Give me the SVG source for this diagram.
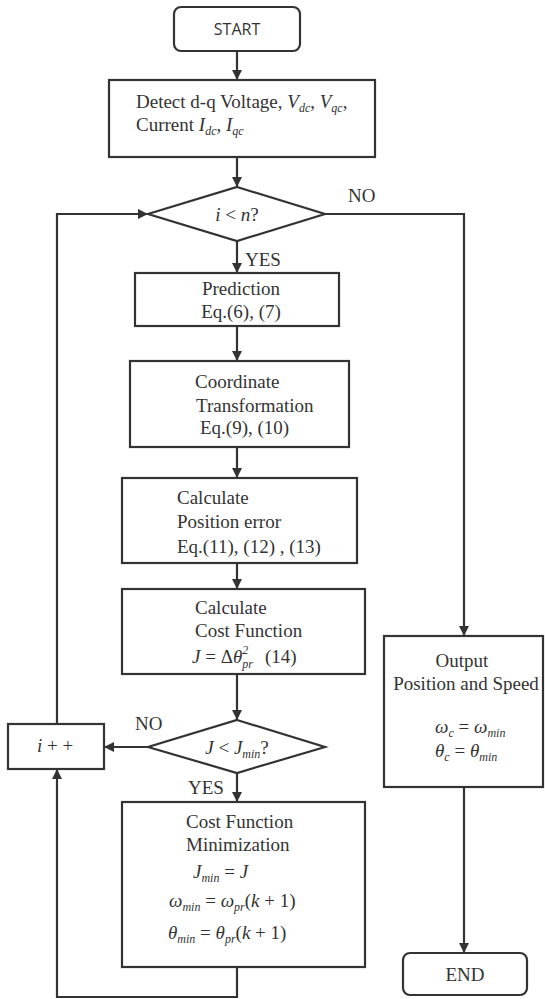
<svg xmlns="http://www.w3.org/2000/svg" width="545" height="999" viewBox="0 0 545 999">
<defs>
<style>
.box{fill:#fff;stroke:#333;stroke-width:2.2}
.ln{fill:none;stroke:#333;stroke-width:2.2}
.t{font-family:"Liberation Serif","Times New Roman",serif;font-size:19px;fill:#333}
.m{font-family:"Liberation Serif","Times New Roman",serif;font-size:19px;fill:#333;font-style:italic}
.s{font-family:"Open Sans","Liberation Sans",sans-serif;font-size:16px;fill:#333}
.sub{font-size:12px}
</style>
<marker id="ah" markerWidth="10" markerHeight="10" refX="10" refY="5" orient="auto" markerUnits="userSpaceOnUse">
<path d="M0,0 L10,5 L0,10 Z" fill="#333"/>
</marker>
</defs>
<rect width="545" height="999" fill="#fff"/>
<g id="connectors">
<path class="ln" d="M237,51 V80" marker-end="url(#ah)"/>
<path class="ln" d="M237,157 V187" marker-end="url(#ah)"/>
<path class="ln" d="M237,241 V273" marker-end="url(#ah)"/>
<path class="ln" d="M237,326 V361" marker-end="url(#ah)"/>
<path class="ln" d="M237,447 V478" marker-end="url(#ah)"/>
<path class="ln" d="M237,563 V589" marker-end="url(#ah)"/>
<path class="ln" d="M237,674 V720" marker-end="url(#ah)"/>
<path class="ln" d="M237,773 V802" marker-end="url(#ah)"/>
<path class="ln" d="M148,747 H104" marker-end="url(#ah)"/>
<path class="ln" d="M237,967 V997 H57 V769" marker-end="url(#ah)"/>
<path class="ln" d="M57,724 V214 H148" marker-end="url(#ah)"/>
<path class="ln" d="M325,214 H464 V636" marker-end="url(#ah)"/>
<path class="ln" d="M464,787 V953" marker-end="url(#ah)"/>
<text class="t" x="348" y="202" font-size="17">NO</text>
<text class="t" x="245" y="266" font-size="17">YES</text>
<text class="t" x="135" y="730" font-size="17">NO</text>
<text class="t" x="188" y="794" font-size="17">YES</text>
</g>
<g id="start">
<rect class="box" x="174" y="7" width="126" height="44" rx="7"/>
<text class="s" x="237" y="35" text-anchor="middle">START</text>
</g>
<g id="detect">
<rect class="box" x="109" y="80" width="266" height="77"/>
<text class="t" x="136" y="108" font-size="18">Detect d-q Voltage, <tspan font-style="italic">V<tspan class="sub" dy="4">dc</tspan></tspan><tspan dy="-4">, </tspan><tspan font-style="italic">V<tspan class="sub" dy="4">qc</tspan></tspan><tspan dy="-4">,</tspan></text>
<text class="t" x="136" y="131" font-size="18">Current <tspan font-style="italic">I<tspan class="sub" dy="4">dc</tspan></tspan><tspan dy="-4">, </tspan><tspan font-style="italic">I<tspan class="sub" dy="4">qc</tspan></tspan></text>
</g>
<g id="cond1">
<polygon class="box" points="237,187 325,214 237,241 148,214"/>
<text class="t" x="237" y="221" text-anchor="middle"><tspan font-style="italic">i</tspan> &lt; <tspan font-style="italic">n</tspan>?</text>
</g>
<g id="prediction">
<rect class="box" x="135" y="273" width="204" height="53"/>
<text class="t" x="241" y="295" text-anchor="middle">Prediction</text>
<text class="t" x="241" y="318" text-anchor="middle">Eq.(6), (7)</text>
</g>
<g id="coord">
<rect class="box" x="130" y="361" width="219" height="86"/>
<text class="t" x="195" y="388">Coordinate</text>
<text class="t" x="196" y="412">Transformation</text>
<text class="t" x="200" y="434">Eq.(9), (10)</text>
</g>
<g id="poserr">
<rect class="box" x="122" y="478" width="235" height="85"/>
<text class="t" x="177" y="504">Calculate</text>
<text class="t" x="177" y="528">Position error</text>
<text class="t" x="177" y="553">Eq.(11), (12) , (13)</text>
</g>
<g id="cost">
<rect class="box" x="122" y="589" width="243" height="85"/>
<text class="t" x="195" y="614">Calculate</text>
<text class="t" x="195" y="637">Cost Function</text>
<text class="t" x="192" y="663"><tspan font-style="italic">J</tspan> = Δ<tspan font-style="italic">θ</tspan><tspan class="sub" font-style="italic" dy="-9">2</tspan><tspan class="sub" font-style="italic" dx="-6" dy="14">pr</tspan><tspan dx="12" dy="-5">(14)</tspan></text>
</g>
<g id="cond2">
<polygon class="box" points="237,720 325,747 237,773 148,747"/>
<text class="t" x="237" y="754" text-anchor="middle"><tspan font-style="italic">J</tspan> &lt; <tspan font-style="italic">J<tspan class="sub" dy="4">min</tspan></tspan><tspan dy="-4">?</tspan></text>
</g>
<g id="incr">
<rect class="box" x="8" y="724" width="96" height="45"/>
<text class="t" x="55" y="752" text-anchor="middle"><tspan font-style="italic">i</tspan> + +</text>
</g>
<g id="minimize">
<rect class="box" x="122" y="802" width="243" height="165"/>
<text class="t" x="186" y="828">Cost Function</text>
<text class="t" x="186" y="851">Minimization</text>
<text class="m" x="193" y="878">J<tspan class="sub" dy="4">min</tspan><tspan dy="-4" font-style="normal"> = </tspan>J</text>
<text class="m" x="169" y="907">ω<tspan class="sub" dy="4">min</tspan><tspan dy="-4" font-style="normal"> = </tspan>ω<tspan class="sub" dy="4">pr</tspan><tspan dy="-4" font-style="normal">(</tspan>k<tspan font-style="normal"> + 1)</tspan></text>
<text class="m" x="168" y="939">θ<tspan class="sub" dy="4">min</tspan><tspan dy="-4" font-style="normal"> = </tspan>θ<tspan class="sub" dy="4">pr</tspan><tspan dy="-4" font-style="normal">(</tspan>k<tspan font-style="normal"> + 1)</tspan></text>
</g>
<g id="output">
<rect class="box" x="384" y="636" width="159" height="151"/>
<text class="t" x="462" y="667" text-anchor="middle">Output</text>
<text class="t" x="466" y="690" text-anchor="middle">Position and Speed</text>
<text class="m" x="435" y="733">ω<tspan class="sub" dy="4">c</tspan><tspan dy="-4" font-style="normal"> = </tspan>ω<tspan class="sub" dy="4">min</tspan></text>
<text class="m" x="435" y="757">θ<tspan class="sub" dy="4">c</tspan><tspan dy="-4" font-style="normal"> = </tspan>θ<tspan class="sub" dy="4">min</tspan></text>
</g>
<g id="end">
<rect class="box" x="403" y="953" width="124" height="42" rx="7"/>
<text class="t" x="465" y="981" text-anchor="middle">END</text>
</g>
</svg>
